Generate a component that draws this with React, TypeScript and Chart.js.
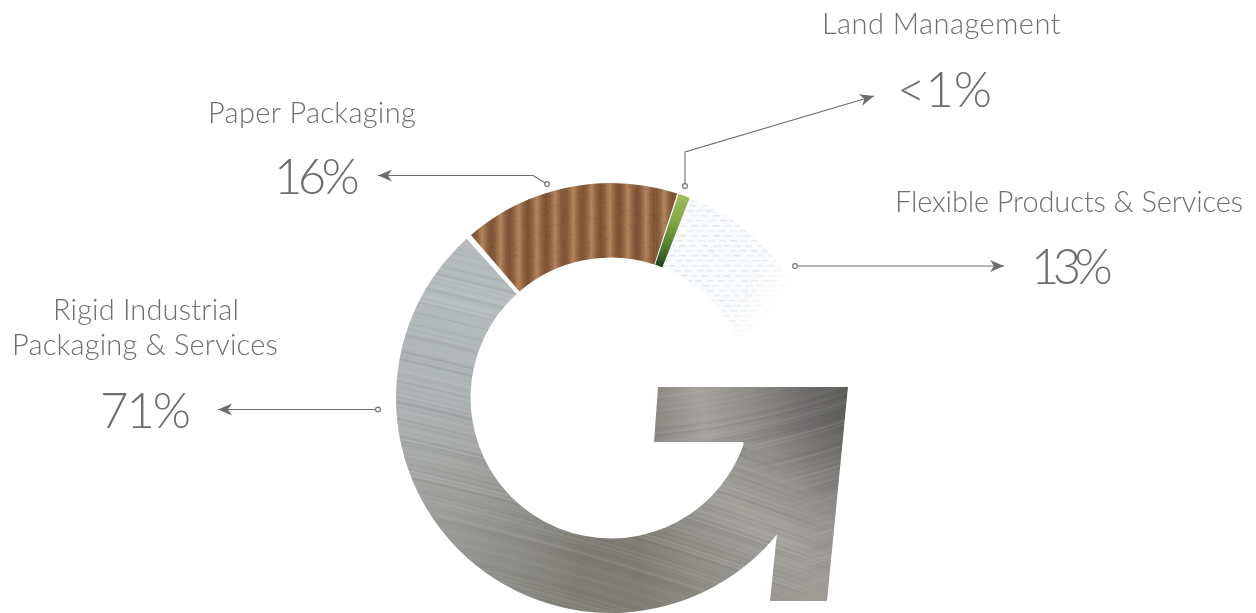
import React, { useEffect, useRef } from "react";
import { Chart, registerables } from "chart.js";

Chart.register(...registerables);

// ---- Data ----
const categories = [
  "Rigid Industrial Packaging & Services",
  "Paper Packaging",
  "Land Management",
  "Flexible Products & Services",
  "",
];
const shareLabels = ["71%", "16%", "<1%", "13%"];
// The logo's ring is not proportional to the shares: degrees of ring as drawn in the picture.
// The last entry is the open part of the "G".
const ringSweepDegrees = [211, 59.3, 3.2, 43.5, 43];

// ---- Layout & style ----
const W = 1256;
const H = 613;
const CX = 611;
const CY = 398;
const RADIUS = 213;
const TEXT = "#6d6e71";
const LINE = "#6d6e71";
const FONT = '"Lato", "Open Sans", sans-serif';

// x / w: left edge and width of the text in the picture, y: baseline
const textItems = [
  { t: categories[2], x: 822, w: 239, y: 34, size: 29 },
  { t: shareLabels[2], x: 897, w: 95, y: 107, size: 49 },
  { t: categories[1], x: 208, w: 208, y: 123, size: 29 },
  { t: shareLabels[1], x: 274, w: 81, y: 193.5, size: 49 },
  { t: categories[3], x: 895, w: 348, y: 212, size: 29 },
  { t: shareLabels[3], x: 1031, w: 75, y: 284, size: 49 },
  { t: "Rigid Industrial", x: 53, w: 186, y: 320, size: 29 },
  { t: "Packaging & Services", x: 12, w: 266, y: 355, size: 29 },
  { t: shareLabels[0], x: 100, w: 89, y: 427.5, size: 49 },
];

// each path starts at the little ring on the logo and ends at the arrow tip
const leaders = [
  [[547, 184], [533, 175.5], [378, 175.5]],
  [[685, 186], [685, 152], [874, 96]],
  [[795, 266], [1004, 266]],
  [[378, 409.5], [218, 409.5]],
];

// Arrow of the "G", in units of the ring radius from the ring centre
const arrowShape = [
  [0.2207, -0.0516],
  [1.1127, -0.0516],
  [1.0141, 0.9531],
  [0.7465, 0.9531],
  [0.7793, 0.6338],
  [0.6197, 0.2066],
  [0.2019, 0.2066],
];

const hash = (i: number) => {
  const v = Math.sin(i * 12.9898) * 43758.5453;
  return v - Math.floor(v);
};

function layer() {
  const c = document.createElement("canvas");
  c.width = W;
  c.height = H;
  return { c, g: c.getContext("2d") as CanvasRenderingContext2D };
}

function arrowPath(g: CanvasRenderingContext2D, x: number, y: number, r: number) {
  g.beginPath();
  arrowShape.forEach(([u, v], i) => {
    if (i === 0) g.moveTo(x + u * r, y + v * r);
    else g.lineTo(x + u * r, y + v * r);
  });
  g.closePath();
}

function streaks(g: CanvasRenderingContext2D, slope: number, seed: number, bend: number) {
  g.save();
  (g as any).filter = "blur(0.7px)";
  for (let i = 0; i < 320; i++) {
    const y0 = -200 + i * 3.1 + hash(i + seed) * 3;
    const light = hash(i * 3 + seed) > 0.45;
    const a = 0.015 + hash(i * 7 + seed) * 0.08;
    g.strokeStyle = light ? `rgba(255,255,255,${a})` : `rgba(40,40,40,${a * 0.8})`;
    g.lineWidth = 0.6 + hash(i * 11 + seed) * 1.6;
    g.beginPath();
    g.moveTo(380, y0);
    g.quadraticCurveTo(620, y0 + 240 * slope + bend, 860, y0 + 480 * slope);
    g.stroke();
  }
  g.restore();
}

// One texture for the whole metal part, so the ring runs into the arrow without a seam
function metal(ctx: CanvasRenderingContext2D) {
  const { c, g } = layer();
  const grad = (g as any).createConicGradient(-Math.PI / 2, CX, CY);
  const stops: [number, string][] = [
    [90, "#94928d"],
    [112, "#94928d"],
    [130, "#a3a19c"],
    [150, "#918f89"],
    [170, "#7e7c74"],
    [190, "#7d7b74"],
    [210, "#8b8a85"],
    [230, "#999995"],
    [250, "#a5a7a5"],
    [270, "#aeb3b4"],
    [290, "#b2b8ba"],
    [320, "#b5bbbd"],
  ];
  stops.forEach(([deg, col]) => grad.addColorStop(deg / 360, col));
  g.fillStyle = grad;
  g.fillRect(0, 0, W, H);
  streaks(g, 0.3, 5, -20);

  const arrow = layer();
  const a = arrow.g.createLinearGradient(655, 430, 850, 395);
  a.addColorStop(0, "#8b8782");
  a.addColorStop(0.25, "#a6a39f");
  a.addColorStop(0.5, "#8f8d88");
  a.addColorStop(0.75, "#737170");
  a.addColorStop(1, "#5d5c58");
  arrow.g.fillStyle = a;
  arrow.g.fillRect(0, 0, W, H);
  const low = arrow.g.createLinearGradient(0, 430, 0, 600);
  low.addColorStop(0, "rgba(158,155,150,0)");
  low.addColorStop(0.6, "rgba(158,155,150,0.9)");
  low.addColorStop(1, "rgba(158,155,150,1)");
  arrow.g.fillStyle = low;
  arrow.g.fillRect(0, 0, W, H);
  streaks(arrow.g, -0.05, 31, 70);
  arrow.g.globalCompositeOperation = "destination-in";
  const mask = arrow.g.createRadialGradient(730, 540, 60, 730, 540, 105);
  mask.addColorStop(0, "rgba(0,0,0,0)");
  mask.addColorStop(1, "rgba(0,0,0,1)");
  arrow.g.fillStyle = mask;
  arrow.g.fillRect(0, 0, W, H);

  g.save();
  arrowPath(g, CX, CY, RADIUS);
  g.clip();
  g.drawImage(arrow.c, 0, 0);
  g.restore();
  return ctx.createPattern(c, "no-repeat") as CanvasPattern;
}

function cardboard(ctx: CanvasRenderingContext2D) {
  const { c, g } = layer();
  const period = 18.2;
  for (let n = 0; n * period < W; n++) {
    const x = n * period;
    const s = g.createLinearGradient(x, 0, x + period, 0);
    s.addColorStop(0, "#7b5232");
    s.addColorStop(0.22, "#8d6140");
    s.addColorStop(0.5, "#b3865f");
    s.addColorStop(0.78, "#8d6140");
    s.addColorStop(1, "#7b5232");
    g.fillStyle = s;
    g.fillRect(x, 0, period + 0.5, H);
  }
  (g as any).filter = "blur(0.6px)";
  for (let i = 0; i < 900; i++) {
    g.fillStyle = `rgba(50,25,10,${0.02 + hash(i) * 0.06})`;
    g.fillRect(460 + hash(i * 2 + 1) * 230, 180 + hash(i * 5 + 3) * 120, 3, 1.5);
  }
  return ctx.createPattern(c, "no-repeat") as CanvasPattern;
}

function grass(ctx: CanvasRenderingContext2D) {
  const g = ctx.createLinearGradient(0, 192, 0, 272);
  g.addColorStop(0, "#a4bf5e");
  g.addColorStop(0.35, "#86a848");
  g.addColorStop(0.7, "#4f7a30");
  g.addColorStop(1, "#14301a");
  return g;
}

function woven(ctx: CanvasRenderingContext2D) {
  const { c, g } = layer();
  g.fillStyle = "#fafbfc";
  g.fillRect(0, 0, W, H);
  for (let y = 180; y < 360; y += 5) {
    for (let x = 640; x < 800; x += 11) {
      const dx = ((y / 5) % 2) * 5 + hash(x * y) * 3;
      g.fillStyle = `rgba(215,223,230,${0.35 + hash(x + y) * 0.4})`;
      g.fillRect(x + dx, y, 7, 1.5);
    }
  }
  // the texture fades away towards its lower right end
  g.globalCompositeOperation = "destination-in";
  const fade = g.createLinearGradient(752, 272, 786, 295);
  fade.addColorStop(0, "rgba(0,0,0,1)");
  fade.addColorStop(1, "rgba(0,0,0,0)");
  g.fillStyle = fade;
  g.fillRect(0, 0, W, H);
  return ctx.createPattern(c, "no-repeat") as CanvasPattern;
}

const calloutPlugin = {
  id: "gCallouts",
  beforeDatasetsDraw(chart: any) {
    // arrow of the G lies under the ring, in the same metal as the first segment
    const ctx: CanvasRenderingContext2D = chart.ctx;
    const arc = chart.getDatasetMeta(0).data[0];
    ctx.save();
    arrowPath(ctx, arc.x, arc.y, arc.outerRadius);
    ctx.fillStyle = chart.data.datasets[0].backgroundColor[0];
    ctx.fill();
    ctx.restore();
  },
  afterDatasetsDraw(chart: any) {
    const ctx: CanvasRenderingContext2D = chart.ctx;
    ctx.save();
    ctx.strokeStyle = LINE;
    ctx.lineWidth = 1.1;
    leaders.forEach((pts) => {
      ctx.beginPath();
      pts.forEach(([x, y], i) => (i === 0 ? ctx.moveTo(x, y) : ctx.lineTo(x, y)));
      ctx.stroke();
      // small open ring at the start
      ctx.beginPath();
      ctx.arc(pts[0][0], pts[0][1], 2.4, 0, Math.PI * 2);
      ctx.fillStyle = "#ffffff";
      ctx.fill();
      ctx.stroke();
      // barbed arrow head at the end
      const [tx, ty] = pts[pts.length - 1];
      const [px, py] = pts[pts.length - 2];
      const ang = Math.atan2(ty - py, tx - px);
      ctx.save();
      ctx.translate(tx, ty);
      ctx.rotate(ang);
      ctx.fillStyle = LINE;
      ctx.beginPath();
      ctx.moveTo(0, 0);
      ctx.lineTo(-14, -6);
      ctx.lineTo(-10, 0);
      ctx.lineTo(-14, 6);
      ctx.closePath();
      ctx.fill();
      ctx.restore();
    });
    ctx.fillStyle = TEXT;
    ctx.textAlign = "left";
    ctx.textBaseline = "alphabetic";
    textItems.forEach(({ t, x, w, y, size }) => {
      ctx.font = `300 ${size}px ${FONT}`;
      (ctx as any).letterSpacing = "0px";
      const natural = ctx.measureText(t).width;
      (ctx as any).letterSpacing = `${(w - natural) / t.length}px`;
      ctx.fillText(t, x, y);
    });
    ctx.restore();
  },
};

export default function App() {
  const ref = useRef<HTMLCanvasElement>(null);

  useEffect(() => {
    const canvas = ref.current as HTMLCanvasElement;
    const ctx = canvas.getContext("2d") as CanvasRenderingContext2D;
    const chart: any = new Chart(canvas, {
      type: "doughnut",
      data: {
        labels: categories,
        datasets: [
          {
            data: ringSweepDegrees,
            backgroundColor: [
              metal(ctx),
              cardboard(ctx),
              grass(ctx),
              woven(ctx),
              "rgba(0,0,0,0)",
            ],
            borderWidth: 0,
            spacing: 4,
          } as any,
        ],
      },
      options: {
        animation: false,
        responsive: false,
        devicePixelRatio: 1,
        rotation: 108,
        circumference: 360,
        radius: RADIUS,
        cutout: "65%",
        layout: { padding: { left: 0, right: W - 2 * CX, top: 2 * CY - H, bottom: 0 } },
        plugins: { legend: { display: false }, tooltip: { enabled: false }, title: { display: false } },
      } as any,
      plugins: [calloutPlugin as any],
    });
    return () => chart.destroy();
  }, []);

  return (
    <div style={{ position: "fixed", left: 0, top: 0, width: W, height: H, background: "#fff" }}>
      <canvas ref={ref} width={W} height={H} style={{ display: "block" }} />
    </div>
  );
}
